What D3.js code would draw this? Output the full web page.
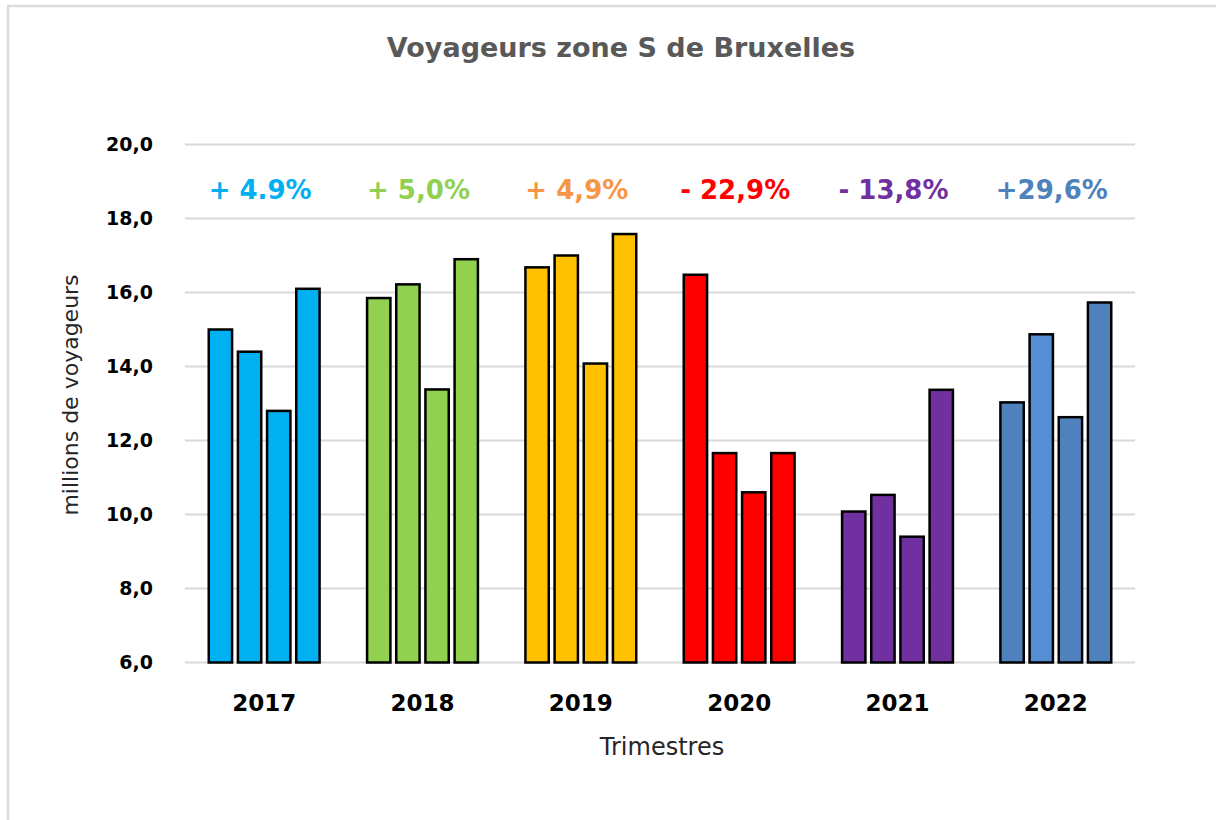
<html>
<head>
<meta charset="utf-8">
<title>Voyageurs zone S de Bruxelles</title>
<style>
  body { margin: 0; background: #fff; }
  text { font-family: "DejaVu Sans", sans-serif; }
</style>
</head>
<body>
<div id="chart"></div>
<script src="https://d3js.org/d3.v7.min.js"></script>
<script>

// data (millions of travellers per quarter)
var years = ["2017", "2018", "2019", "2020", "2021", "2022"];
var quarters = ["T1", "T2", "T3", "T4"];
var values2017 = [15.0, 14.4, 12.8, 16.1];
var values2018 = [15.85, 16.22, 13.38, 16.9];
var values2019 = [16.68, 17.0, 14.08, 17.58];
var values2020 = [16.48, 11.66, 10.6, 11.66];
var values2021 = [10.08, 10.53, 9.4, 13.37];
var values2022 = [13.03, 14.87, 12.63, 15.73];
var growthLabels = ["+ 4.9%", "+ 5,0%", "+ 4,9%", "- 22,9%", "- 13,8%", "+29,6%"];
var yTicks = [6, 8, 10, 12, 14, 16, 18, 20];

var barColors = {
  "2017": ["#00B0F0", "#00B0F0", "#00B0F0", "#00B0F0"],
  "2018": ["#92D050", "#92D050", "#92D050", "#92D050"],
  "2019": ["#FFC000", "#FFC000", "#FFC000", "#FFC000"],
  "2020": ["#FF0000", "#FF0000", "#FF0000", "#FF0000"],
  "2021": ["#7030A0", "#7030A0", "#7030A0", "#7030A0"],
  "2022": ["#4F81BD", "#558ED5", "#4F81BD", "#4F81BD"]
};
var labelColors = ["#00B0F0", "#92D050", "#F79646", "#FF0000", "#7030A0", "#4F81BD"];

var allValues = [values2017, values2018, values2019, values2020, values2021, values2022];
var data = years.map(function(y, i) {
  return { year: y, values: allValues[i] };
});

var width = 1216, height = 820;
var margin = { top: 144.5, right: 81, bottom: 157.5, left: 185 };

var svg = d3.select("#chart").append("svg")
  .attr("width", width)
  .attr("height", height);

// frame of the original picture (top and left edges only)
svg.append("line").attr("x1", 7).attr("x2", width).attr("y1", 6).attr("y2", 6)
  .attr("stroke", "#dcdcdc").attr("stroke-width", 2.5);
svg.append("line").attr("x1", 8).attr("x2", 8).attr("y1", 6).attr("y2", height)
  .attr("stroke", "#dcdcdc").attr("stroke-width", 2.5);

var x0 = d3.scaleBand()
  .domain(years)
  .range([margin.left, width - margin.right])
  .paddingInner(0.3)
  .paddingOuter(0.15);

var x1 = d3.scaleBand()
  .domain(quarters)
  .range([0, x0.bandwidth()])
  .paddingInner(0.2);

var y = d3.scaleLinear()
  .domain([6, 20])
  .range([height - margin.bottom, margin.top]);

// gridlines
svg.append("g")
  .selectAll("line")
  .data(yTicks)
  .enter()
  .append("line")
    .attr("x1", margin.left)
    .attr("x2", width - margin.right)
    .attr("y1", function(d) { return y(d); })
    .attr("y2", function(d) { return y(d); })
    .attr("stroke", "#d9d9d9")
    .attr("stroke-width", 2);

// y axis labels
var yAxis = d3.axisLeft(y)
  .tickValues(yTicks)
  .tickSize(0)
  .tickPadding(0)
  .tickFormat(function(d) { return d3.format(".1f")(d).replace(".", ","); });

svg.append("g")
  .attr("transform", "translate(153,0)")
  .call(yAxis)
  .call(function(g) { g.select(".domain").remove(); })
  .selectAll("text")
    .attr("font-family", "'DejaVu Sans', sans-serif")
    .attr("font-size", 19)
    .attr("font-weight", "bold")
    .attr("fill", "#000");

// bars
var groups = svg.append("g")
  .selectAll("g")
  .data(data)
  .enter()
  .append("g")
    .attr("transform", function(d) { return "translate(" + x0(d.year) + ",0)"; });

groups.selectAll("rect")
  .data(function(d) {
    return d.values.map(function(v, i) { return { year: d.year, q: quarters[i], value: v, i: i }; });
  })
  .enter()
  .append("rect")
    .attr("x", function(d) { return x1(d.q); })
    .attr("width", x1.bandwidth())
    .attr("y", function(d) { return y(d.value); })
    .attr("height", function(d) { return y(6) - y(d.value); })
    .attr("fill", function(d) { return barColors[d.year][d.i]; })
    .attr("stroke", "#000")
    .attr("stroke-width", 2.5);

// x axis labels (years)
var xAxis = d3.axisBottom(x0).tickSize(0).tickPadding(0);
svg.append("g")
  .attr("transform", "translate(0,711)")
  .call(xAxis)
  .call(function(g) { g.select(".domain").remove(); })
  .selectAll("text")
    .attr("dy", 0)
    .attr("font-family", "'DejaVu Sans', sans-serif")
    .attr("font-size", 23)
    .attr("font-weight", "bold")
    .attr("fill", "#000");

// growth labels above each year
svg.append("g")
  .selectAll("text")
  .data(years)
  .enter()
  .append("text")
    .attr("x", function(d) { return x0(d) + x0.bandwidth() / 2 - 4; })
    .attr("y", 199)
    .attr("text-anchor", "middle")
    .attr("font-size", 26)
    .attr("font-weight", "bold")
    .attr("fill", function(d, i) { return labelColors[i]; })
    .text(function(d, i) { return growthLabels[i]; });

// title
svg.append("text")
  .attr("x", 621)
  .attr("y", 57)
  .attr("text-anchor", "middle")
  .attr("font-size", 27)
  .attr("font-weight", "bold")
  .attr("fill", "#595959")
  .text("Voyageurs zone S de Bruxelles");

// axis titles
svg.append("text")
  .attr("x", 662)
  .attr("y", 755)
  .attr("text-anchor", "middle")
  .attr("font-size", 24)
  .attr("fill", "#262626")
  .text("Trimestres");

svg.append("text")
  .attr("transform", "translate(78,395) rotate(-90)")
  .attr("text-anchor", "middle")
  .attr("font-size", 22)
  .attr("fill", "#262626")
  .text("millions de voyageurs");

</script>
</body>
</html>
